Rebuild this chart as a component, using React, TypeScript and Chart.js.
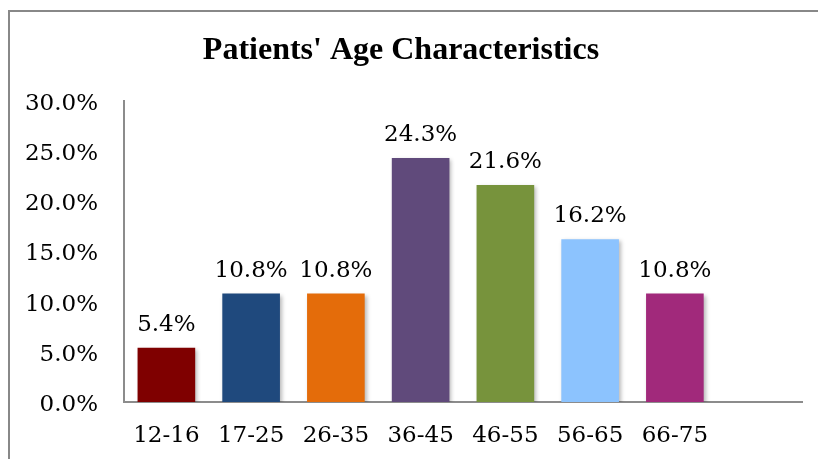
import React, { useEffect, useRef } from "react";
import { Chart, registerables } from "chart.js";

Chart.register(...registerables);

const categories = ["12-16", "17-25", "26-35", "36-45", "46-55", "56-65", "66-75", ""];
const values = [5.4, 10.8, 10.8, 24.3, 21.6, 16.2, 10.8, null];
const barColors = ["#7F0000", "#1F497D", "#E46C0A", "#604A7B", "#77933C", "#8CC3FE", "#A1297B", "#FFFFFF"];
const titleText = "Patients' Age Characteristics";
const yMax = 30;
const yStep = 5;

const labelFont = "'DejaVu Serif', serif";

const framePlugin = {
  id: "frame",
  beforeDraw(chart: any) {
    const ctx = chart.ctx;
    ctx.save();
    ctx.fillStyle = "#FFFFFF";
    ctx.fillRect(0, 0, chart.width, chart.height);
    ctx.strokeStyle = "#888888";
    ctx.lineWidth = 2;
    ctx.strokeRect(9, 11, chart.width + 20, chart.height + 20);
    ctx.restore();
  },
};

const shadowPlugin = {
  id: "barShadow",
  beforeDatasetsDraw(chart: any) {
    const ctx = chart.ctx;
    ctx.save();
    ctx.shadowColor = "rgba(0,0,0,0.28)";
    ctx.shadowBlur = 4;
    ctx.shadowOffsetX = 2;
    ctx.shadowOffsetY = 2;
  },
  afterDatasetsDraw(chart: any) {
    chart.ctx.restore();
  },
};

const valueLabelPlugin = {
  id: "valueLabels",
  afterDatasetsDraw(chart: any) {
    const ctx = chart.ctx;
    const meta = chart.getDatasetMeta(0);
    ctx.save();
    ctx.font = `23px ${labelFont}`;
    ctx.fillStyle = "#000000";
    ctx.textAlign = "center";
    ctx.textBaseline = "alphabetic";
    meta.data.forEach((bar: any, i: number) => {
      const v = values[i];
      if (v == null) return;
      ctx.fillText(v.toFixed(1) + "%", bar.x, bar.y - 17);
    });
    ctx.restore();
  },
};

export default function App() {
  const ref = useRef<HTMLCanvasElement | null>(null);

  useEffect(() => {
    if (!ref.current) return;
    const chart = new Chart(ref.current, {
      type: "bar",
      data: {
        labels: categories,
        datasets: [
          {
            data: values as any,
            backgroundColor: barColors,
            borderWidth: 0,
            barPercentage: 0.68,
            categoryPercentage: 1,
          },
        ],
      },
      options: {
        animation: false,
        responsive: true,
        maintainAspectRatio: false,
        layout: { padding: { left: 0, right: 16, top: 0, bottom: 0 } },
        plugins: {
          legend: { display: false },
          tooltip: { enabled: false },
          title: {
            display: true,
            text: titleText,
            color: "#000000",
            font: { family: "'Liberation Serif', serif", size: 32, weight: "bold", lineHeight: 1.2 },
            padding: { top: 32, bottom: 30.3 },
          },
        },
        scales: {
          x: {
            grid: { display: false, drawTicks: false },
            border: { display: true, color: "#8C8C8C", width: 2 },
            afterFit: (s: any) => {
              s.height = 57;
            },
            ticks: {
              color: "#000000",
              font: { family: labelFont, size: 23 },
              padding: 20.5,
              maxRotation: 0,
              autoSkip: false,
            },
          },
          y: {
            min: 0,
            max: yMax,
            grid: { display: false, drawTicks: false },
            border: { display: true, color: "#8C8C8C", width: 2 },
            afterFit: (s: any) => {
              s.width = 124;
            },
            ticks: {
              stepSize: yStep,
              color: "#000000",
              font: { family: labelFont, size: 23 },
              padding: 26,
              labelOffset: 3,
              callback: (v: any) => Number(v).toFixed(1) + "%",
            },
          },
        },
      },
      plugins: [framePlugin, shadowPlugin, valueLabelPlugin],
    });
    return () => chart.destroy();
  }, []);

  return (
    <div style={{ position: "fixed", left: 0, top: 0, width: 818, height: 459 }}>
      <canvas ref={ref} />
    </div>
  );
}
